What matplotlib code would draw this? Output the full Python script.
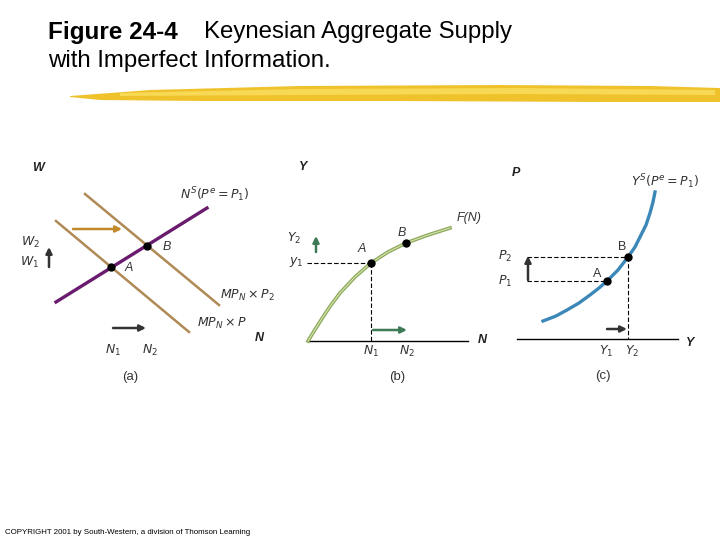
import matplotlib
matplotlib.use('Agg')
import matplotlib.pyplot as plt

plt.rcParams['font.family'] = ['Liberation Sans', 'DejaVu Sans']

# everything lives on one canvas measured in pixels (y grows downwards)
W, H = 720, 540

# panel (a): labour market
ns_line = ([56, 207], [302, 208])          # N^S(P^e = P1)
mpn_p1 = ([56, 189], [221, 332])           # MP_N x P1
mpn_p2 = ([85, 219], [194, 305])           # MP_N x P2
pts_a = {'A': (111, 267), 'B': (147, 246)}

# panel (b): production function
fn_x = [308, 316, 323, 331, 340, 355, 371, 388, 406, 428, 450]
fn_y = [341, 328, 317, 305, 293, 277, 263, 252, 243, 235, 228]
pts_b = {'A': (371, 263), 'B': (406, 243)}

# panel (c): aggregate supply
ys_x = [543, 556, 567, 579, 590, 599, 607, 618, 628, 635, 640, 646, 650, 653, 655]
ys_y = [321, 316, 310, 303, 295, 288, 281, 270, 257, 247, 237, 225, 213, 202, 192]
pts_c = {'A': (607, 281), 'B': (628, 257)}

fig = plt.figure(figsize=(7.2, 5.4), dpi=100)
ax = fig.add_axes([0, 0, 1, 1])
ax.set_xlim(0, W)
ax.set_ylim(H, 0)
ax.axis('off')

# title and yellow brush stroke
ax.text(48, 32, 'Figure 24-4', fontsize=17.5, fontweight='bold', va='center')
ax.text(204, 32, 'Keynesian Aggregate Supply', fontsize=17.3, va='center')
ax.text(48, 61, 'with Imperfect Information.', fontsize=17.3, va='center')
brush_x = [70, 150, 300, 500, 650, 720, 720, 600, 400, 200, 100, 70]
brush_y = [96, 90, 86, 85, 86, 88, 102, 102, 101, 101, 100, 97]
ax.fill(brush_x, brush_y, color='#efc22c', lw=0)
ax.fill([120, 300, 520, 715, 715, 520, 300, 120], [93, 89, 88, 90, 95, 94, 95, 96], color='#f7d955', lw=0)

ax.text(5, 532, 'COPYRIGHT 2001 by South-Western, a division of Thomson Learning', fontsize=5.7, va='center')

lab = dict(fontsize=9, style='italic', color='#333333', va='center', ha='center')
axlab = dict(fontsize=9, style='italic', fontweight='bold', color='#222222', va='center', ha='center')


def arrow(x0, y0, x1, y1, c):
    ax.annotate('', xy=(x1, y1), xytext=(x0, y0),
                arrowprops=dict(arrowstyle='-|>', color=c, lw=1.8, mutation_scale=9,
                                shrinkA=0, shrinkB=0))


# ---- panel (a)
ax.plot(*mpn_p1, color='#b08a55', lw=1.8)
ax.plot(*mpn_p2, color='#b08a55', lw=1.8)
ax.plot(*ns_line, color='#6a1b6e', lw=2.4)
for k, (x, y) in pts_a.items():
    ax.plot(x, y, 'o', color='black', ms=5)
ax.text(129, 268, 'A', **lab)
ax.text(167, 247, 'B', **lab)
ax.text(38, 168, 'W', **axlab)
ax.text(259, 338, 'N', **axlab)
ax.text(30, 242, r'$W_2$', fontsize=9, color='#333333', va='center', ha='center')
ax.text(30, 262, r'$W_1$', fontsize=9, color='#333333', va='center', ha='center')
ax.text(180, 195, r'$N^S(P^e = P_1)$', fontsize=9, color='#333333', va='center', ha='left')
ax.text(220, 295, r'$MP_N \times P_2$', fontsize=9, color='#333333', va='center', ha='left')
ax.text(197, 323, r'$MP_N \times P$', fontsize=9, color='#333333', va='center', ha='left')
ax.text(113, 350, r'$N_1$', fontsize=9, color='#333333', va='center', ha='center')
ax.text(150, 350, r'$N_2$', fontsize=9, color='#333333', va='center', ha='center')
ax.text(130, 377, '(a)', fontsize=9.5, color='#333333', va='center', ha='center')
arrow(49, 267, 49, 247, '#333333')
arrow(73, 229, 122, 229, '#c08a2a')
arrow(113, 328, 146, 328, '#333333')

# ---- panel (b)
ax.plot([308, 468], [341, 341], color='black', lw=1)
ax.plot(fn_x, fn_y, color='#8aa85a', lw=2.6)
ax.plot(fn_x, fn_y, color='#d9e4b0', lw=0.8)
ax.plot([307, pts_b['A'][0]], [263, 263], color='black', lw=0.8, ls=(0, (4, 2)))
ax.plot([371, 371], [263, 341], color='black', lw=0.8, ls=(0, (4, 2)))
for k, (x, y) in pts_b.items():
    ax.plot(x, y, 'o', color='black', ms=5)
ax.text(362, 249, 'A', **lab)
ax.text(402, 233, 'B', **lab)
ax.text(303, 167, 'Y', **axlab)
ax.text(482, 340, 'N', **axlab)
ax.text(457, 218, 'F(N)', fontsize=9, style='italic', color='#333333', va='center', ha='left')
ax.text(294, 238, r'$Y_2$', fontsize=9, color='#333333', va='center', ha='center')
ax.text(296, 262, r'$y_1$', fontsize=9, color='#333333', va='center', ha='center')
ax.text(371, 351, r'$N_1$', fontsize=9, color='#333333', va='center', ha='center')
ax.text(407, 351, r'$N_2$', fontsize=9, color='#333333', va='center', ha='center')
ax.text(397, 377, '(b)', fontsize=9.5, color='#333333', va='center', ha='center')
arrow(316, 252, 316, 236, '#3d7a55')
arrow(373, 330, 407, 330, '#3d7a55')

# ---- panel (c)
ax.plot([517, 678], [339, 339], color='black', lw=1)
ax.plot(ys_x, ys_y, color='#3b88b8', lw=2.4)
ax.plot([527, 628], [257, 257], color='black', lw=0.8, ls=(0, (4, 2)))
ax.plot([527, 607], [281, 281], color='black', lw=0.8, ls=(0, (4, 2)))
ax.plot([628, 628], [257, 339], color='black', lw=0.8, ls=(0, (4, 2)))
for k, (x, y) in pts_c.items():
    ax.plot(x, y, 'o', color='black', ms=5)
ax.text(597, 274, 'A', fontsize=9, color='#333333', va='center', ha='center')
ax.text(622, 247, 'B', fontsize=9, color='#333333', va='center', ha='center')
ax.text(516, 173, 'P', **axlab)
ax.text(690, 343, 'Y', **axlab)
ax.text(665, 182, r'$Y^S(P^e = P_1)$', fontsize=9, color='#333333', va='center', ha='center')
ax.text(505, 256, r'$P_2$', fontsize=9, color='#333333', va='center', ha='center')
ax.text(505, 281, r'$P_1$', fontsize=9, color='#333333', va='center', ha='center')
ax.text(606, 351, r'$Y_1$', fontsize=9, color='#333333', va='center', ha='center')
ax.text(632, 351, r'$Y_2$', fontsize=9, color='#333333', va='center', ha='center')
ax.text(603, 376, '(c)', fontsize=9.5, color='#333333', va='center', ha='center')
arrow(528, 280, 528, 256, '#333333')
arrow(607, 329, 627, 329, '#333333')

fig.savefig('out.png', dpi=100)
